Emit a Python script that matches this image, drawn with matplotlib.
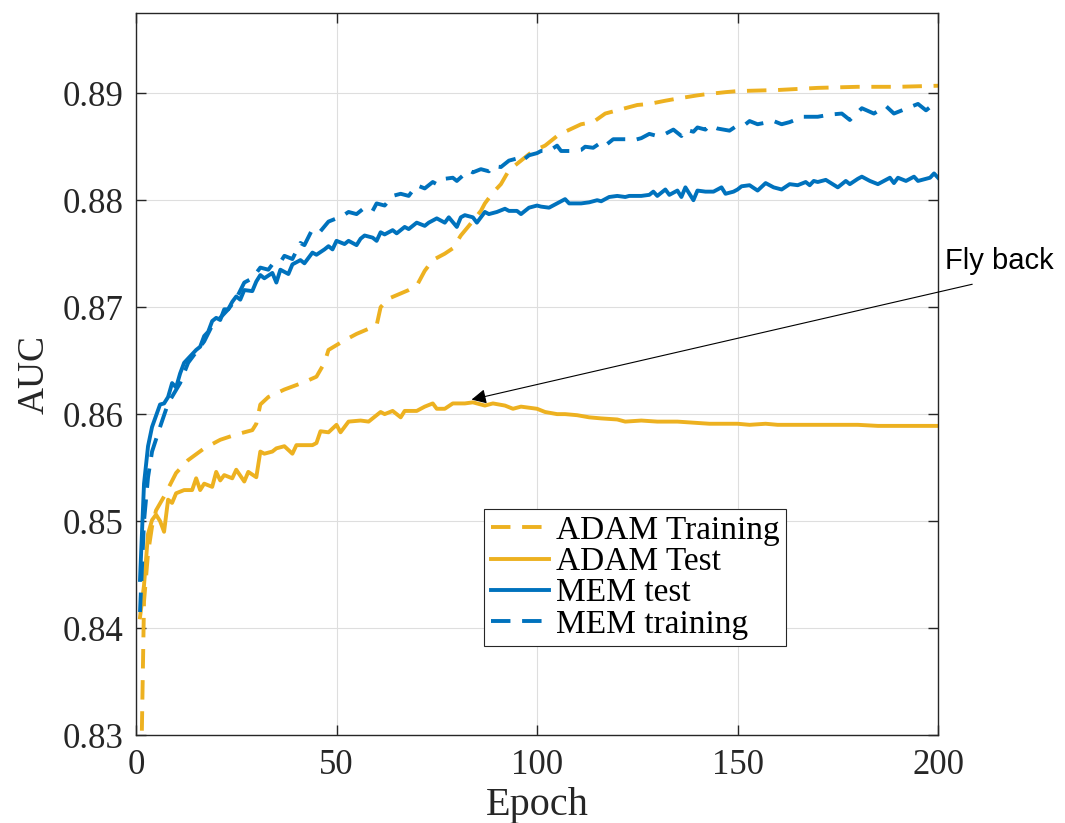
import matplotlib
matplotlib.use("Agg")
import matplotlib.pyplot as plt

# values, (epoch, AUC)
mem_test_ep = [1, 2, 3, 4, 6, 7, 8, 9, 10, 11, 12, 13, 15, 16, 17, 18, 19, 20, 21, 22,
               23, 24, 25, 26, 27, 29, 30, 31, 32, 34, 35, 36, 38, 39, 41, 42, 44, 45, 47, 48,
               49, 50, 52, 53, 55, 56, 57, 59, 60, 61, 62, 64, 65, 67, 68, 70, 72, 73, 75, 77,
               78, 80, 81, 82, 84, 85, 87, 88, 90, 92, 93, 95, 96, 98, 100, 101, 103, 105, 107, 108,
               111, 113, 115, 116, 118, 120, 122, 123, 126, 128, 129, 130, 132, 133, 135, 136, 137, 139, 140, 142,
               144, 146, 147, 149, 150, 151, 153, 155, 157, 159, 161, 163, 165, 167, 168, 169, 170, 172, 175, 177,
               178, 180, 181, 183, 185, 188, 189, 190, 192, 194, 195, 197, 198, 199, 200]
mem_test = [0.8445, 0.8535, 0.8570, 0.8588, 0.8609, 0.8610, 0.8616, 0.8629, 0.8625, 0.8638,
            0.8648, 0.8652, 0.8660, 0.8663, 0.8673, 0.8677, 0.8687, 0.8690, 0.8688, 0.8698,
            0.8698, 0.8705, 0.8710, 0.8707, 0.8716, 0.8715, 0.8724, 0.8730, 0.8727, 0.8732,
            0.8723, 0.8735, 0.8731, 0.8740, 0.8744, 0.8741, 0.8751, 0.8749, 0.8754, 0.8757,
            0.8754, 0.8762, 0.8759, 0.8762, 0.8758, 0.8764, 0.8767, 0.8765, 0.8762, 0.8770,
            0.8768, 0.8772, 0.8769, 0.8775, 0.8773, 0.8779, 0.8776, 0.8779, 0.8783, 0.8779,
            0.8784, 0.8775, 0.8784, 0.8786, 0.8784, 0.8779, 0.8789, 0.8787, 0.8789, 0.8792,
            0.8790, 0.8790, 0.8787, 0.8793, 0.8795, 0.8794, 0.8793, 0.8797, 0.8801, 0.8797,
            0.8797, 0.8798, 0.8800, 0.8799, 0.8803, 0.8804, 0.8803, 0.8804, 0.8804, 0.8805,
            0.8808, 0.8804, 0.8810, 0.8805, 0.8809, 0.8803, 0.8812, 0.8800, 0.8809, 0.8808,
            0.8808, 0.8812, 0.8806, 0.8808, 0.8810, 0.8813, 0.8814, 0.8809, 0.8816, 0.8812,
            0.8810, 0.8815, 0.8814, 0.8817, 0.8814, 0.8818, 0.8817, 0.8819, 0.8812, 0.8818,
            0.8815, 0.8820, 0.8822, 0.8818, 0.8815, 0.8821, 0.8816, 0.8821, 0.8818, 0.8822,
            0.8818, 0.8820, 0.8821, 0.8825, 0.8821]

mem_train_ep = [1, 2, 3, 4, 6, 8, 11, 13, 15, 17, 19, 21, 23, 25, 27, 29, 31, 33, 34, 36,
                37, 39, 41, 42, 44, 46, 48, 50, 51, 53, 55, 57, 59, 60, 62, 64, 66, 68, 70, 72,
                74, 75, 77, 79, 80, 83, 84, 86, 88, 89, 91, 93, 95, 96, 98, 100, 101, 103, 105, 106,
                109, 111, 112, 114, 116, 117, 119, 122, 124, 126, 128, 130, 132, 134, 136, 137, 139, 140, 142, 143,
                145, 148, 150, 152, 153, 155, 159, 161, 163, 165, 166, 170, 173, 176, 178, 181, 184, 187, 189, 191,
                193, 195, 197, 198, 200]
mem_train = [0.8415, 0.8500, 0.8541, 0.8565, 0.8588, 0.8610, 0.8629, 0.8648, 0.8658, 0.8668,
             0.8683, 0.8690, 0.8698, 0.8708, 0.8723, 0.8727, 0.8737, 0.8735, 0.8740, 0.8742,
             0.8748, 0.8745, 0.8760, 0.8758, 0.8773, 0.8771, 0.8780, 0.8783, 0.8784, 0.8789,
             0.8787, 0.8793, 0.8790, 0.8797, 0.8795, 0.8804, 0.8806, 0.8804, 0.8814, 0.8811,
             0.8817, 0.8815, 0.8820, 0.8821, 0.8818, 0.8828, 0.8826, 0.8829, 0.8827, 0.8832,
             0.8831, 0.8837, 0.8839, 0.8836, 0.8842, 0.8844, 0.8846, 0.8846, 0.8851, 0.8846,
             0.8846, 0.8847, 0.8850, 0.8849, 0.8854, 0.8851, 0.8857, 0.8857, 0.8856, 0.8858,
             0.8862, 0.8860, 0.8862, 0.8866, 0.8860, 0.8866, 0.8864, 0.8868, 0.8866, 0.8870,
             0.8867, 0.8865, 0.8870, 0.8871, 0.8874, 0.8871, 0.8874, 0.8871, 0.8873, 0.8876,
             0.8878, 0.8878, 0.8880, 0.8881, 0.8875, 0.8886, 0.8881, 0.8888, 0.8881, 0.8884,
             0.8887, 0.8890, 0.8884, 0.8887, 0.8892]

adam_train_ep = [1, 2, 3, 4, 5, 7, 10, 13, 17, 21, 25, 29, 30, 31, 33, 37, 42, 45, 47, 48,
                 52, 55, 60, 61, 63, 68, 70, 72, 74, 77, 79, 81, 83, 86, 87, 89, 91, 93, 95, 97,
                 99, 102, 105, 107, 111, 114, 117, 120, 125, 128, 132, 135, 140, 142, 147, 150, 160, 170, 180, 190,
                 200]
adam_train = [0.8200, 0.8425, 0.8470, 0.8495, 0.8510, 0.8523, 0.8545, 0.8557, 0.8568, 0.8576,
              0.8581, 0.8585, 0.8591, 0.8609, 0.8616, 0.8623, 0.8630, 0.8635, 0.8648, 0.8660,
              0.8669, 0.8675, 0.8683, 0.8700, 0.8708, 0.8716, 0.8720, 0.8734, 0.8744, 0.8750,
              0.8755, 0.8767, 0.8776, 0.8790, 0.8797, 0.8807, 0.8815, 0.8828, 0.8834, 0.8840,
              0.8846, 0.8851, 0.8860, 0.8864, 0.8871, 0.8873, 0.8881, 0.8884, 0.8889, 0.8890,
              0.8893, 0.8895, 0.8898, 0.8899, 0.8901, 0.8902, 0.8903, 0.8905, 0.8906, 0.8906,
              0.8907]

adam_test_ep = [1, 2, 3, 4, 5, 6, 7, 8, 9, 10, 12, 14, 15, 16, 17, 19, 20, 21, 22, 24,
                25, 27, 28, 30, 31, 32, 34, 35, 37, 39, 40, 42, 44, 45, 46, 48, 50, 51, 53, 56,
                58, 61, 62, 64, 66, 67, 70, 72, 74, 75, 77, 79, 82, 84, 87, 89, 92, 94, 96, 100,
                102, 105, 107, 110, 113, 116, 120, 122, 126, 130, 135, 139, 143, 146, 150, 153, 157, 160, 170, 180,
                185, 190, 200]
adam_test = [0.8410, 0.8440, 0.8488, 0.8501, 0.8506, 0.8500, 0.8490, 0.8520, 0.8517, 0.8526,
             0.8529, 0.8529, 0.8540, 0.8529, 0.8535, 0.8532, 0.8546, 0.8538, 0.8543, 0.8540,
             0.8548, 0.8537, 0.8546, 0.8541, 0.8565, 0.8563, 0.8565, 0.8568, 0.8570, 0.8563,
             0.8571, 0.8571, 0.8571, 0.8573, 0.8584, 0.8583, 0.8590, 0.8583, 0.8593, 0.8594,
             0.8593, 0.8602, 0.8600, 0.8603, 0.8597, 0.8603, 0.8603, 0.8607, 0.8610, 0.8605,
             0.8605, 0.8610, 0.8610, 0.8611, 0.8608, 0.8610, 0.8608, 0.8605, 0.8607, 0.8605,
             0.8602, 0.8600, 0.8600, 0.8599, 0.8597, 0.8596, 0.8595, 0.8593, 0.8594, 0.8593,
             0.8593, 0.8592, 0.8591, 0.8591, 0.8591, 0.8590, 0.8591, 0.8590, 0.8590, 0.8590,
             0.8589, 0.8589, 0.8589]

xticks = [0, 50, 100, 150, 200]
yticks = [0.83, 0.84, 0.85, 0.86, 0.87, 0.88, 0.89]

blue = '#0072BD'
yellow = '#EDB120'
dark = '#262626'

plt.rcParams['font.family'] = ['Liberation Serif', 'DejaVu Serif']

fig = plt.figure(figsize=(10.65, 8.23), dpi=100)
ax = fig.add_axes([0.1277, 0.1069, 0.7531, 0.8773])

lw = 2.8
l1, = ax.plot(adam_train_ep, adam_train, color=yellow, lw=lw, dashes=(5, 3), label='ADAM Training')
l2, = ax.plot(adam_test_ep, adam_test, color=yellow, lw=lw, label='ADAM Test')
l3, = ax.plot(mem_test_ep, mem_test, color=blue, lw=lw, label='MEM test')
l4, = ax.plot(mem_train_ep, mem_train, color=blue, lw=lw, dashes=(5, 3), label='MEM training')

ax.set_xlim(0, 200)
ax.set_ylim(0.83, 0.8975)
ax.set_xticks(xticks)
ax.set_yticks(yticks)
ax.set_yticklabels([f'{v:.2f}' for v in yticks])
ax.grid(True, color='#dedede', lw=0.8)
ax.set_axisbelow(True)

for s in ax.spines.values():
    s.set_color(dark)
    s.set_linewidth(1.0)
ax.tick_params(direction='in', length=7, width=1, colors=dark, labelcolor=dark,
               top=True, right=True, labelsize=25)
ax.tick_params(axis='y', pad=9)
ax.tick_params(axis='x', pad=10)

ax.set_xlabel('Epoch', fontsize=29, color=dark, labelpad=4)
ax.set_ylabel('AUC', fontsize=27, color=dark, labelpad=8)

leg = ax.legend(handles=[l1, l2, l3, l4], loc='lower left', bbox_to_anchor=(0.434, 0.123),
                borderaxespad=0, fontsize=24, fancybox=False, framealpha=1,
                handlelength=1.75, handletextpad=0.2, labelspacing=0.02, borderpad=0.2)
leg.get_frame().set_edgecolor(dark)
leg.get_frame().set_linewidth(0.8)

# "Fly back" arrow pointing at the ADAM test peak
ax.annotate('', xy=(83, 0.8613), xytext=(209.2, 0.8722), annotation_clip=False,
            arrowprops=dict(arrowstyle='-|>', color='black', lw=0.8, mutation_scale=22))
ax.text(201.8, 0.8736, 'Fly back', family=['Liberation Sans', 'DejaVu Sans'],
        fontsize=21, color='black', clip_on=False)

fig.savefig('out.png', dpi=100)
